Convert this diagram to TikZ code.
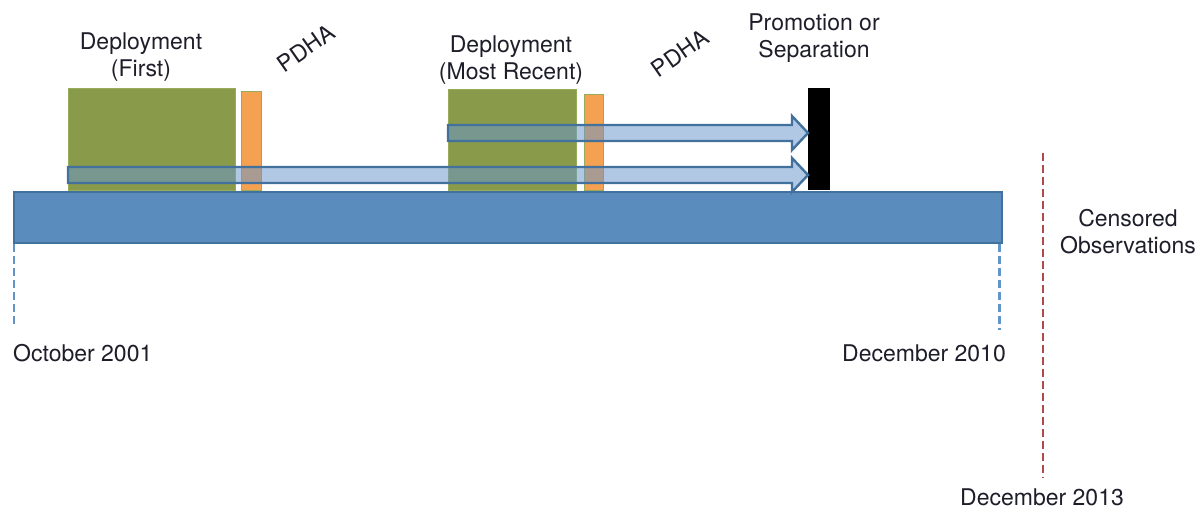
\documentclass[tikz,border=0pt]{standalone}
\usepackage{fontspec}
\setmainfont{TeX Gyre Heros}
\definecolor{barblue}{HTML}{5B8CBE}
\definecolor{edgeblue}{HTML}{41719C}
\definecolor{olive}{HTML}{899A4B}
\definecolor{olivedge}{HTML}{97AC58}
\definecolor{pdhaorange}{HTML}{F4A152}
\definecolor{arrowfill}{HTML}{6A97CC}
\definecolor{tickblue}{HTML}{6195C8}
\definecolor{censorred}{HTML}{B04A4C}
\definecolor{ink}{HTML}{1E1E2A}
\begin{document}
\begin{tikzpicture}[x=1pt,y=-1pt,
  every node/.style={text=ink, inner sep=0pt},
  font=\fontsize{23}{27}\selectfont,
  block/.style={draw, line width=1.4pt, minimum width=#1, anchor=south west},
  deploy/.style={block=#1, fill=olive, draw=olivedge},
  pdha/.style={block=#1, fill=pdhaorange, draw=olivedge},
  timeline/.style={draw=edgeblue, line width=2.4pt, fill=barblue},
  blockarrow/.style={draw=edgeblue, line width=2.4pt, fill=arrowfill, fill opacity=0.53, line join=miter},
  tick/.style={draw=tickblue, line width=2.6pt, dash pattern=on 8pt off 4pt},
  censor/.style={draw=censorred, line width=2.6pt, dash pattern=on 8pt off 4pt},
  label/.style={align=center}
]
\useasboundingbox (0,0) rectangle (1198,510);

% observation window
\node[timeline, minimum width=988pt, minimum height=51pt, anchor=north west] (bar) at (13,191) {};

% deployments and their post-deployment health assessments
\node[deploy=167pt, minimum height=102pt] (dep1) at (68,191) {};
\node[pdha=20pt, minimum height=99pt] (pdha1) at (241,191) {};
\node[deploy=128pt, minimum height=101pt] (dep2) at (448,191) {};
\node[pdha=19pt, minimum height=96pt] (pdha2) at (584,191) {};

% outcome event
\node[fill=black, minimum width=22pt, minimum height=102pt, anchor=south west] (event) at (808,190) {};

% follow-up arrows to the event
\draw[blockarrow] (68,167) -- (792,167) -- (792,158) -- (event.west |- 0,175)
  -- (792,192) -- (792,183) -- (68,183) -- cycle;
\draw[blockarrow] (448,125) -- (792,125) -- (792,116) -- (event.west |- 0,133)
  -- (792,150) -- (792,141) -- (448,141) -- cycle;

% window boundaries
\draw[tick] (bar.south west) ++(1,0) -- ++(0,83);
\draw[tick] (bar.south east) ++(-4,0) -- ++(0,86);
\draw[censor] (1043,153) -- (1043,478);

% labels
\node[label] (l1) at (141,57) {Deployment\\(First)};
\node[rotate=35] (l2) at (306,48) {PDHA};
\node[label] (l3) at (511,60) {Deployment\\(Most Recent)};
\node[rotate=35] (l4) at (680,53) {PDHA};
\node[label] (l5) at (814,38) {Promotion or\\Separation};
\node[label] (l6) at (1128,232) {Censored\\Observations};
\node[anchor=west] (d1) at (13,353) {October 2001};
\node[anchor=east] (d2) at (1006,353) {December 2010};
\node (d3) at (1042,497) {December 2013};
\end{tikzpicture}
\end{document}
